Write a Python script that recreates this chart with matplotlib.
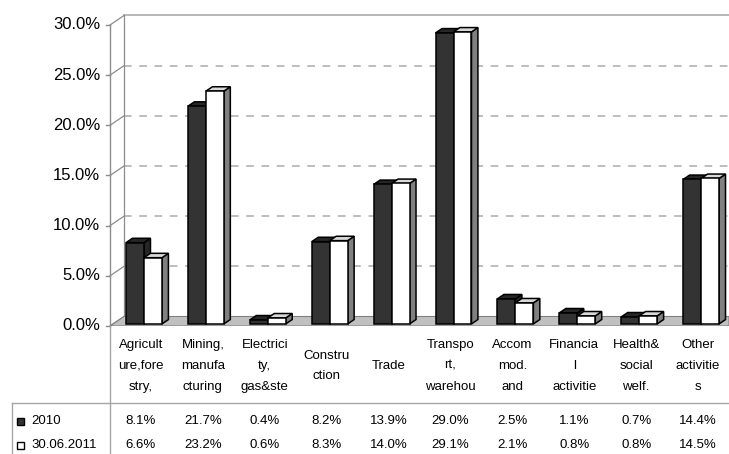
import matplotlib
matplotlib.use("Agg")
import matplotlib.pyplot as plt
from matplotlib.patches import Polygon, Rectangle
from matplotlib.lines import Line2D
from matplotlib.transforms import blended_transform_factory

plt.rcParams['font.family'] = ['Liberation Sans', 'DejaVu Sans']

categories = ["Agricult\nure,fore\nstry,", "Mining,\nmanufa\ncturing", "Electrici\nty,\ngas&ste",
              "Constru\nction", "Trade", "Transpo\nrt,\nwarehou", "Accom\nmod.\nand",
              "Financia\nl\nactivitie", "Health&\nsocial\nwelf.", "Other\nactivitie\ns"]
series_names = ["2010", "30.06.2011"]
values_2010 = [8.1, 21.7, 0.4, 8.2, 13.9, 29.0, 2.5, 1.1, 0.7, 14.4]
values_2011 = [6.6, 23.2, 0.6, 8.3, 14.0, 29.1, 2.1, 0.8, 0.8, 14.5]
yticks = [0, 5, 10, 15, 20, 25, 30]

W, H = 729, 454
fig = plt.figure(figsize=(W / 100, H / 100), dpi=100)

# front plane of the plot in pixels
x_left, x_right = 110, 729
y_zero, y_top_front = 326, 25
y_top_back = 14
px_per_pct = (y_zero - y_top_front) / 30.0
ymax = (y_zero - y_top_back) / px_per_pct
ax = fig.add_axes([x_left / W, (H - y_zero) / H, (x_right - x_left) / W, (y_zero - y_top_back) / H])
n = len(categories)
ax.set_xlim(-0.5, n - 0.5)
ax.set_ylim(0, ymax)
ax.axis('off')

px_per_cat = (x_right - x_left) / n
DX = 14 / px_per_cat
DY = 9.5 / px_per_pct

grid_col = '#ababab'
axis_col = '#8c8c8c'

# floor
ax.add_patch(Polygon([(-0.5, 0), (-0.5 + DX, DY), (n - 0.5, DY), (n - 0.5, 0)],
                     closed=True, facecolor='#c0c0c0', edgecolor='#808080', lw=0.8, zorder=1))
# back wall gridlines
for v in yticks:
    if v == 30:
        ax.plot([-0.5 + DX, n - 0.5], [v + DY, v + DY], color=grid_col, lw=1.2, zorder=0.5)
    elif v > 0:
        ax.plot([-0.5 + DX, n - 0.5], [v + DY, v + DY], color=grid_col, lw=1.1,
                dashes=(5, 5), zorder=0.5)
    # slanted connectors
    ax.plot([-0.5, -0.5 + DX], [v, v + DY], color=axis_col, lw=0.9, zorder=0.6, clip_on=False)
# back wall vertical line
ax.plot([-0.5 + DX, -0.5 + DX], [DY, 30 + DY], color=axis_col, lw=0.9, zorder=0.6)
# front axis
ax.plot([-0.5, -0.5], [0, 30], color=axis_col, lw=1.0, zorder=0.6, clip_on=False)
tick_len = 4 / px_per_cat
for v in yticks:
    ax.plot([-0.5 - tick_len, -0.5], [v, v], color=axis_col, lw=1.0, clip_on=False)
    ax.text(-0.5 - 10 / px_per_cat, v, f"{v:.1f}%", ha='right', va='center', fontsize=12)

# bars
bw = 0.29
f0, f1 = 0.22, 0.68   # front/back depth fraction of bars
def draw_bar(x0, h, face, top, side, z):
    ox, oy = f0 * DX, f0 * DY
    dx, dy = (f1 - f0) * DX, (f1 - f0) * DY
    x0 = x0 + ox
    x1 = x0 + bw
    b = oy
    t = h + oy
    ec = '#000000'
    lw = 1.1
    ax.add_patch(Polygon([(x1, b), (x1 + dx, b + dy), (x1 + dx, t + dy), (x1, t)], closed=True,
                         facecolor=side, edgecolor=ec, lw=lw, zorder=z, joinstyle='miter'))
    ax.add_patch(Polygon([(x0, t), (x0 + dx, t + dy), (x1 + dx, t + dy), (x1, t)], closed=True,
                         facecolor=top, edgecolor=ec, lw=lw, zorder=z, joinstyle='miter'))
    ax.add_patch(Rectangle((x0, b), bw, h, facecolor=face, edgecolor=ec, lw=lw, zorder=z,
                           joinstyle='miter'))

for i in range(n):
    draw_bar(i - bw, values_2010[i], '#333333', '#262626', '#262626', 2 + i * 2)
    draw_bar(i, values_2011[i], '#ffffff', '#d8d8d8', '#808080', 3 + i * 2)

# data table
def fy(ypx):
    return 1 - ypx / H
def fx(xpx):
    return xpx / W
line_col = '#a6a6a6'
fig.add_artist(Line2D([fx(x_left), fx(x_left)], [fy(y_zero), 0], color=line_col, lw=1.0))
fig.add_artist(Line2D([fx(12), 1], [fy(403), fy(403)], color=line_col, lw=1.0))
fig.add_artist(Line2D([fx(12), fx(12)], [fy(403), 0], color=line_col, lw=1.0))

trans = blended_transform_factory(ax.transData, fig.transFigure)
for i, c in enumerate(categories):
    ax.text(i, fy(366), c, transform=trans, ha='center', va='center', fontsize=9.5,
            linespacing=1.95)
row_y = [421, 445]
for vals, ry in zip([values_2010, values_2011], row_y):
    for i, v in enumerate(vals):
        ax.text(i, fy(ry), f"{v:.1f}%", transform=trans, ha='center', va='center', fontsize=9.5)

key_colors = ['#333333', '#ffffff']
for name, ry, kc in zip(series_names, row_y, key_colors):
    fig.add_artist(Rectangle((fx(17), fy(ry + 4)), fx(7), 7 / H, facecolor=kc,
                             edgecolor='#000000', lw=1.0, transform=fig.transFigure))
    fig.text(fx(31), fy(ry), name, ha='left', va='center', fontsize=9.5)

fig.savefig("out.png", dpi=100)
